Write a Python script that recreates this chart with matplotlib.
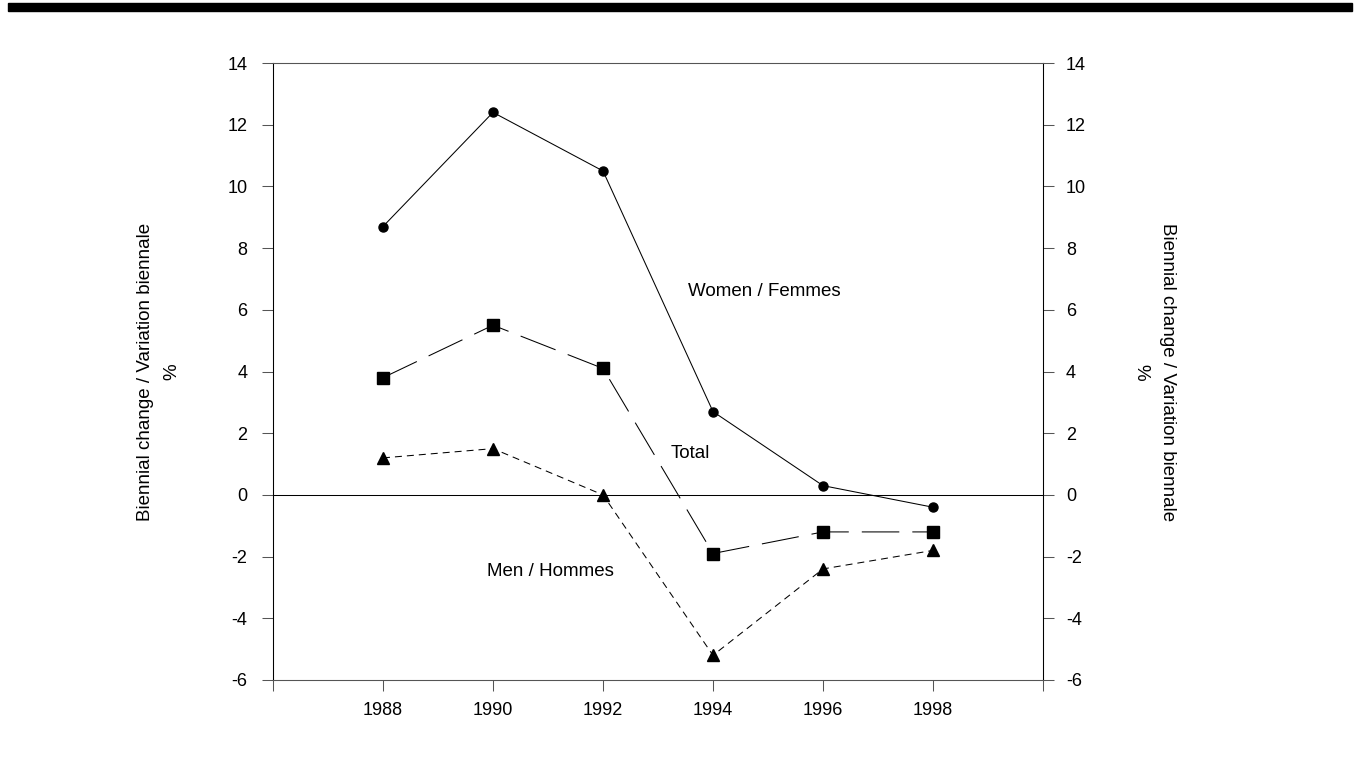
import matplotlib
matplotlib.use("Agg")
import matplotlib.pyplot as plt
from matplotlib.patches import Rectangle

plt.rcParams["font.family"] = ["Liberation Sans", "DejaVu Sans"]
plt.rcParams["axes.unicode_minus"] = False

# data
years = [1988, 1990, 1992, 1994, 1996, 1998]
women = [8.7, 12.4, 10.5, 2.7, 0.3, -0.4]
total = [3.8, 5.5, 4.1, -1.9, -1.2, -1.2]
men = [1.2, 1.5, 0.0, -5.2, -2.4, -1.8]

x_ticks = [1986, 1988, 1990, 1992, 1994, 1996, 1998, 2000]
x_labels = ["", "1988", "1990", "1992", "1994", "1996", "1998", ""]
y_ticks = [-6, -4, -2, 0, 2, 4, 6, 8, 10, 12, 14]
y_title = "Biennial change / Variation biennale\n%"

fig = plt.figure(figsize=(13.66, 7.59), dpi=100)
ax = fig.add_axes([273 / 1366, 79 / 759, 770 / 1366, 617 / 759])

# thick rule across the top of the page
fig.patches.append(Rectangle((8 / 1366, 1 - 11 / 759), 1344 / 1366, 8 / 759,
                             transform=fig.transFigure, color="black"))

lw = 0.75
ax.plot(years, women, color="black", lw=lw, marker="o", markersize=6.5)
ln_total, = ax.plot(years, total, color="black", lw=lw, marker="s",
                    markersize=8.5)
ln_total.set_dashes((36, 12.5))
ln_men, = ax.plot(years, men, color="black", lw=lw, marker="^",
                  markersize=9)
ln_men.set_dashes((6.7, 4.8))
ax.axhline(0, color="black", lw=lw)

ax.set_xlim(1986, 2000)
ax.set_ylim(-6, 14)
ax.set_xticks(x_ticks)
ax.set_xticklabels(x_labels)
ax.set_yticks(y_ticks)

# right-hand axis repeats the same scale
ax2 = ax.twinx()
ax2.set_ylim(-6, 14)
ax2.set_yticks(y_ticks)

ax.text(1994.94, 6.58, "Women / Femmes", ha="center", va="center", fontsize=13.5)
ax.text(1993.58, 1.33, "Total", ha="center", va="center", fontsize=13.5)
ax.text(1991.05, -2.47, "Men / Hommes", ha="center", va="center", fontsize=13.5)

for a in (ax, ax2):
    for side in ["top", "bottom"]:
        a.spines[side].set_color("#555555")
        a.spines[side].set_linewidth(lw)
    for side in ["left", "right"]:
        a.spines[side].set_color("black")
        a.spines[side].set_linewidth(lw)
    a.tick_params(axis="both", direction="out", length=8, width=lw,
                  color="#555555", labelsize=13)

ax.tick_params(axis="y", pad=10.5)
ax2.tick_params(axis="y", pad=8.5)
ax.tick_params(axis="x", pad=8)

fig.text(159 / 1366, 1 - 372 / 759, y_title, rotation=90, ha="center",
         va="center", fontsize=13.5, multialignment="center", linespacing=1.72)
fig.text(1154.5 / 1366, 1 - 372 / 759, y_title, rotation=270, ha="center",
         va="center", fontsize=13.5, multialignment="center", linespacing=1.72)

fig.savefig("out.png", dpi=100)
